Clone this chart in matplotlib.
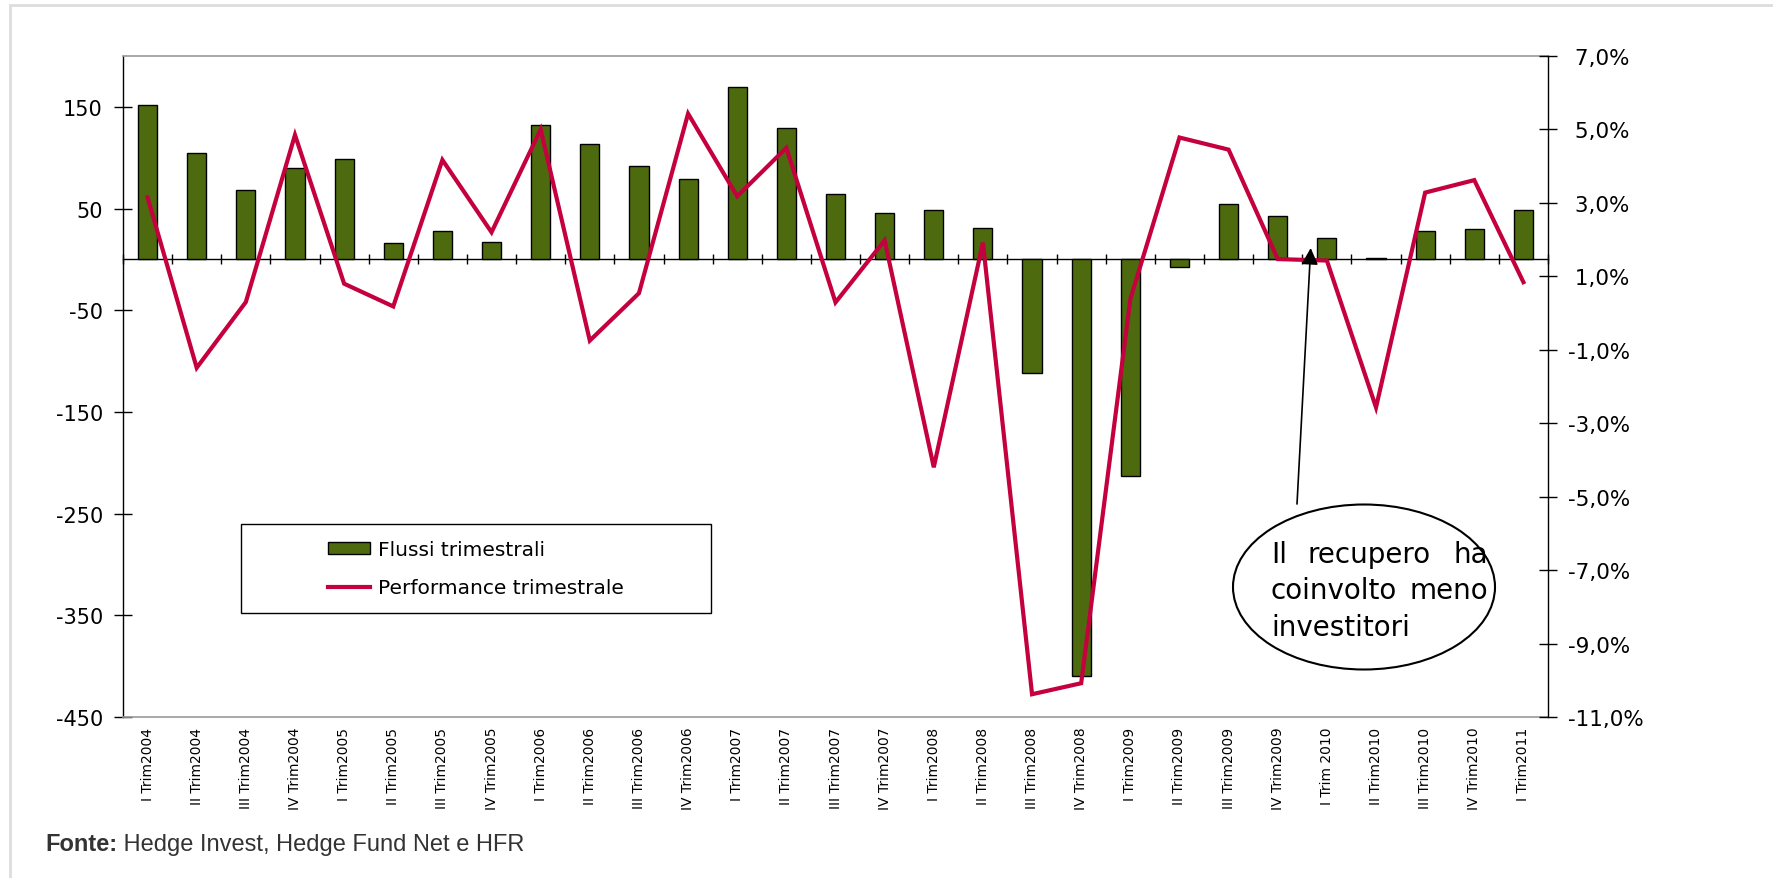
import numpy as np
import matplotlib
matplotlib.use("Agg")
import matplotlib.pyplot as plt
from matplotlib.patches import Ellipse, Rectangle, Patch
from matplotlib.lines import Line2D
from matplotlib.text import Annotation

plt.rcParams['axes.unicode_minus'] = False

# ---------------- data ----------------
categories = [
    "I Trim2004", "II Trim2004", "III Trim2004", "IV Trim2004",
    "I Trim2005", "II Trim2005", "III Trim2005", "IV Trim2005",
    "I Trim2006", "II Trim2006", "III Trim2006", "IV Trim2006",
    "I Trim2007", "II Trim2007", "III Trim2007", "IV Trim2007",
    "I Trim2008", "II Trim2008", "III Trim2008", "IV Trim2008",
    "I Trim2009", "II Trim2009", "III Trim2009", "IV Trim2009",
    "I Trim 2010", "II Trim2010", "III Trim2010", "IV Trim2010",
    "I Trim2011",
]
flows = [152, 105, 68, 90, 99, 16, 28, 17, 132, 113, 92, 79,
         170, 129, 64, 46, 49, 31, -112, -410, -213, -7, 54, 43,
         21, 1, 28, 30, 49]
performance = [3.15, -1.49, 0.30, 4.85, 0.80, 0.18, 4.17, 2.20, 5.00, -0.75,
               0.54, 5.43, 3.18, 4.50, 0.29, 1.98, -4.20, 1.92, -10.38, -10.08,
               0.38, 4.78, 4.45, 1.47, 1.43, -2.57, 3.28, 3.62, 0.84]
left_ticks = [-450, -350, -250, -150, -50, 50, 150]
right_ticks = [-11, -9, -7, -5, -3, -1, 1, 3, 5, 7]
legend_labels = ["Flussi trimestrali", "Performance trimestrale"]
note_lines = [["Il", "recupero", "ha"], ["coinvolto", "meno"], ["investitori"]]
source_bold = "Fonte:"
source_text = " Hedge Invest, Hedge Fund Net e HFR"

GREEN = "#4D6B0E"
RED = "#C4003E"
CHART_FONT = "DejaVu Sans"
TEXT_FONT = "Liberation Sans"

# ---------------- figure ----------------
W, H = 1773, 879
fig = plt.figure(figsize=(W / 100, H / 100), dpi=100)
fig.patch.set_facecolor("white")


def fx(px):
    return px / W


def fy(py):
    return 1 - py / H


L, R, T, B = 123, 1548, 57, 718
ax = fig.add_axes([fx(L), fy(B), fx(R) - fx(L), fy(T) - fy(B)])
x = np.arange(len(categories))
ax.bar(x, flows, width=0.39, color=GREEN, edgecolor="black", linewidth=1.0, zorder=3)
ax.set_xlim(-0.5, len(categories) - 0.5)
ymin, ymax = -450, 200
ax.set_ylim(ymin, ymax)
ax.set_yticks(left_ticks)
ax.set_yticklabels([str(v) for v in left_ticks], family=CHART_FONT, fontsize=15)
ax.set_xticks(x)
ax.set_xticklabels(categories, rotation=90, fontsize=10, family=CHART_FONT)
ax.tick_params(axis="x", length=0, pad=7)
ax.tick_params(axis="y", direction="inout", length=13, width=1, pad=8, colors="black")
for s in ["top", "bottom"]:
    ax.spines[s].set_color("#999999")
    ax.spines[s].set_linewidth(1.2)
ax.spines["left"].set_color("black")
ax.spines["left"].set_linewidth(1.0)
ax.spines["right"].set_visible(False)

# category axis crossing at zero
zero_frac = (0 - ymin) / (ymax - ymin)
sec = ax.secondary_xaxis(zero_frac)
sec.set_xticks(np.arange(len(categories) + 1) - 0.5)
sec.set_xticklabels([])
sec.tick_params(axis="x", direction="inout", length=7, width=1, colors="black")
for s in sec.spines.values():
    s.set_color("black")
    s.set_linewidth(1.0)

# performance line on secondary axis
ax2 = ax.twinx()
ax2.plot(x, performance, color=RED, lw=3, zorder=5, solid_joinstyle="miter")
ax2.set_ylim(-11, 7)
ax2.set_yticks(right_ticks)
ax2.set_yticklabels([(f"{v:.1f}%" if v < 0 else f" {v:.1f}%").replace(".", ",")
                     for v in right_ticks], family=CHART_FONT, fontsize=15.5)
ax2.tick_params(axis="y", direction="inout", length=13, width=1, pad=8)
for s in ["top", "bottom", "left"]:
    ax2.spines[s].set_visible(False)
ax2.spines["right"].set_color("black")
ax2.spines["right"].set_linewidth(1.0)

# legend box
rect = Rectangle((0.0828, 0.157), 0.3298, 0.135, transform=ax2.transAxes,
                 facecolor="white", edgecolor="black", lw=1.0, zorder=6)
ax2.add_patch(rect)
handles = [Patch(facecolor=GREEN, edgecolor="black", lw=1.0),
           Line2D([], [], color=RED, lw=3)]
leg = ax2.legend(handles, legend_labels, loc="center", bbox_to_anchor=(0.2477, 0.2245),
                 bbox_transform=ax2.transAxes, frameon=False,
                 prop={"family": CHART_FONT, "size": 14.5},
                 handlelength=2.1, handleheight=0.5, handletextpad=0.4, labelspacing=0.95)
leg.set_zorder(7)

# annotation ellipse
ell = Ellipse((fx(1364), fy(588)), width=262 / W, height=165 / H, transform=fig.transFigure,
              facecolor="white", edgecolor="black", lw=1.5, zorder=8)
fig.add_artist(ell)
xl, xr = 1271, 1488
base = [563, 599, 636]
fs_note = 20
kw = dict(va="baseline", family=CHART_FONT, fontsize=fs_note, zorder=9)
fig.text(fx(xl), fy(base[0]), note_lines[0][0], ha="left", **kw)
fig.text(fx(1369), fy(base[0]), note_lines[0][1], ha="center", **kw)
fig.text(fx(xr), fy(base[0]), note_lines[0][2], ha="right", **kw)
fig.text(fx(xl), fy(base[1]), note_lines[1][0], ha="left", **kw)
fig.text(fx(xr), fy(base[1]), note_lines[1][1], ha="right", **kw)
fig.text(fx(xl), fy(base[2]), note_lines[2][0], ha="left", **kw)

# arrow
ax2.annotate("", xy=(fx(1310.7), fy(249)), xytext=(fx(1297), fy(505)),
             xycoords="figure fraction", textcoords="figure fraction",
             arrowprops=dict(arrowstyle="-|>,head_length=0.4,head_width=0.2",
                             color="black", lw=1.2, mutation_scale=25,
                             shrinkA=0, shrinkB=0), zorder=9)

# outer light frame
fig.add_artist(Line2D([fx(10), 1], [fy(6), fy(6)], transform=fig.transFigure, color="#DDDDDD", lw=2))
fig.add_artist(Line2D([fx(10), fx(10)], [fy(6), 0], transform=fig.transFigure, color="#DDDDDD", lw=2))

# source
t1 = fig.text(fx(45), fy(845), source_bold, fontweight="bold", family=TEXT_FONT,
              fontsize=17, va="center", ha="left", color="#333333")
fig.add_artist(Annotation(source_text, xy=(1, 0), xycoords=t1,
                          va="bottom", ha="left", family=TEXT_FONT,
                          fontsize=17, color="#333333"))

fig.savefig("out.png", dpi=100)
